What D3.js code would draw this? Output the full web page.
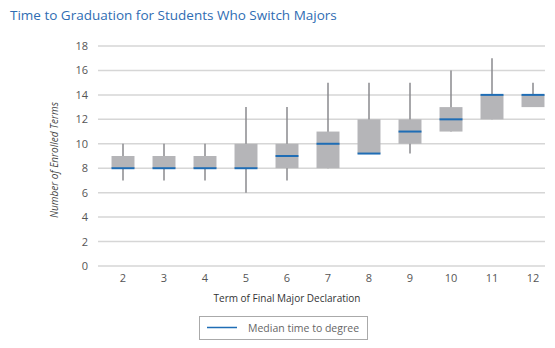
<!DOCTYPE html>
<html>
<head>
<meta charset="utf-8">
<script src="https://cdn.jsdelivr.net/npm/d3@7"></script>
<style>
  body { margin: 0; background: #fff; }
  text { font-family: "Open Sans", "DejaVu Sans", sans-serif; }
</style>
</head>
<body>
<div id="chart"></div>
<script>
// box plot data
const terms   = ['2', '3', '4', '5', '6', '7', '8', '9', '10', '11', '12'];
const lows    = [7, 7, 7, 6, 7, 8, 9.2, 9.2, 11, 12, 13];
const q1s     = [8, 8, 8, 8, 8, 8, 9.2, 10, 11, 12, 13];
const medians = [8, 8, 8, 8, 9, 10, 9.2, 11, 12, 14, 14];
const q3s     = [9, 9, 9, 10, 10, 11, 12, 12, 13, 14, 14];
const highs   = [10, 10, 10, 13, 13, 15, 15, 15, 16, 17, 15];
const yTicks  = [0, 2, 4, 6, 8, 10, 12, 14, 16, 18];

const width = 555, height = 348;
const plotLeft = 98, plotRight = 545, plotTop = 46, plotBottom = 266;

const rows = terms.map((t, i) => ({
    term: t, low: lows[i], q1: q1s[i], med: medians[i], q3: q3s[i], high: highs[i]
}));

const svg = d3.select('#chart').append('svg')
    .attr('width', width)
    .attr('height', height);

const x = d3.scaleBand().domain(terms).range([102.5, 553.5]).paddingInner(0.44).paddingOuter(0.22);
const y = d3.scaleLinear().domain([0, 18]).range([plotBottom, plotTop]);

// title
svg.append('text')
    .attr('x', 10).attr('y', 20)
    .attr('fill', '#2f6db3')
    .attr('font-size', 13.5)
    .text('Time to Graduation for Students Who Switch Majors');

// gridlines
svg.append('g').selectAll('line')
    .data(yTicks)
    .enter().append('line')
    .attr('x1', plotLeft).attr('x2', plotRight)
    .attr('y1', d => y(d)).attr('y2', d => y(d))
    .attr('stroke', '#d6d6d6')
    .attr('stroke-width', 1.5);

// y axis labels
const yAxis = svg.append('g')
    .attr('transform', `translate(${plotLeft - 10},0)`)
    .call(d3.axisLeft(y).tickValues(yTicks).tickSize(0).tickPadding(0));
yAxis.select('.domain').remove();
yAxis.selectAll('text')
    .attr('fill', '#555')
    .attr('font-size', 11)
    .style('font-family', '"Open Sans", sans-serif');

// x axis labels
const xAxis = svg.append('g')
    .attr('transform', `translate(0,${plotBottom + 6})`)
    .call(d3.axisBottom(x).tickSize(0).tickPadding(0));
xAxis.select('.domain').remove();
xAxis.selectAll('text')
    .attr('fill', '#555')
    .attr('font-size', 11)
    .attr('dy', '0.9em')
    .style('font-family', '"Open Sans", sans-serif');

// axis titles
svg.append('text')
    .attr('x', 287).attr('y', 302)
    .attr('text-anchor', 'middle')
    .attr('font-size', 10)
    .attr('fill', '#333')
    .text('Term of Final Major Declaration');

svg.append('text')
    .attr('transform', 'translate(58,160) rotate(-90)')
    .attr('text-anchor', 'middle')
    .attr('font-size', 10)
    .attr('font-style', 'italic')
    .attr('fill', '#444')
    .text('Number of Enrolled Terms');

const boxes = svg.append('g').selectAll('g')
    .data(rows)
    .enter().append('g');

const cx = d => x(d.term) + x.bandwidth() / 2;

// whiskers
boxes.append('line')
    .attr('x1', cx).attr('x2', cx)
    .attr('y1', d => y(d.low)).attr('y2', d => y(d.high))
    .attr('stroke', '#8a8a8e')
    .attr('stroke-width', 1.5);

// boxes
boxes.append('rect')
    .attr('x', d => x(d.term))
    .attr('width', x.bandwidth())
    .attr('y', d => y(d.q3))
    .attr('height', d => y(d.q1) - y(d.q3))
    .attr('fill', '#b5b5b8');

// medians
boxes.append('line')
    .attr('x1', d => x(d.term)).attr('x2', d => x(d.term) + x.bandwidth())
    .attr('y1', d => y(d.med)).attr('y2', d => y(d.med))
    .attr('stroke', '#1f6db5')
    .attr('stroke-width', 2);

// legend
const legend = svg.append('g');
legend.append('rect')
    .attr('x', 199.5).attr('y', 316.5)
    .attr('width', 168).attr('height', 23)
    .attr('fill', 'none')
    .attr('stroke', '#aaa');
legend.append('line')
    .attr('x1', 207).attr('x2', 237)
    .attr('y1', 327.5).attr('y2', 327.5)
    .attr('stroke', '#1f6db5')
    .attr('stroke-width', 1.5);
legend.append('text')
    .attr('x', 248).attr('y', 331.5)
    .attr('font-size', 10.5)
    .attr('fill', '#666')
    .text('Median time to degree');
</script>
</body>
</html>
